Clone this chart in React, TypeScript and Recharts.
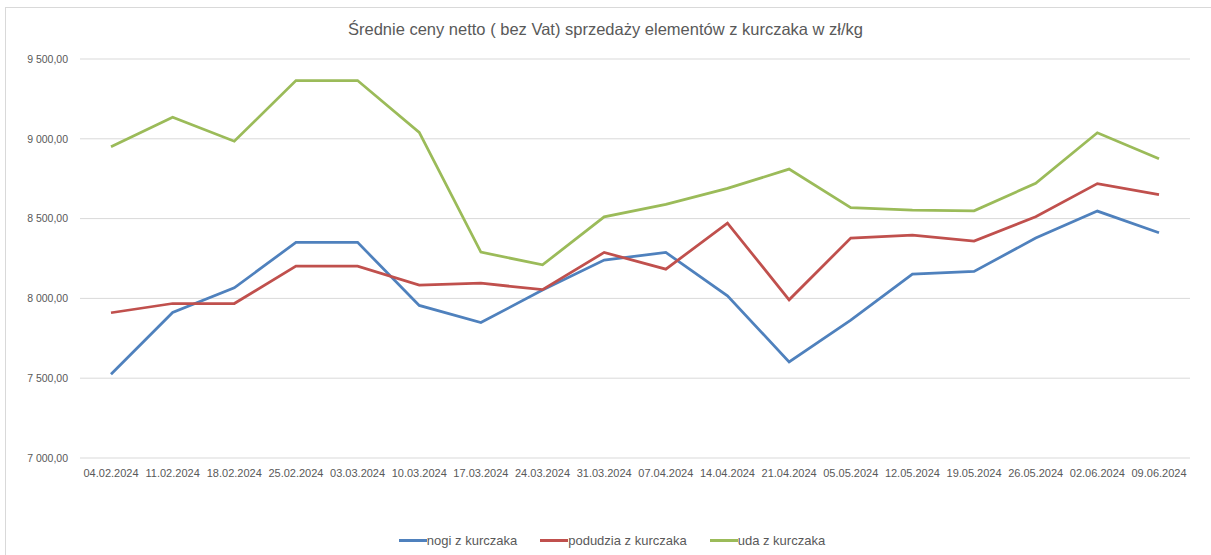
import { CartesianGrid, Legend, Line, LineChart, XAxis, YAxis } from "recharts";

const dates = [
  "04.02.2024", "11.02.2024", "18.02.2024", "25.02.2024", "03.03.2024", "10.03.2024",
  "17.03.2024", "24.03.2024", "31.03.2024", "07.04.2024", "14.04.2024", "21.04.2024",
  "05.05.2024", "12.05.2024", "19.05.2024", "26.05.2024", "02.06.2024", "09.06.2024",
];
const nogi = [7525, 7912, 8066, 8351, 8351, 7956, 7849, 8052, 8240, 8288, 8016, 7602, 7864, 8152, 8169, 8378, 8547, 8411];
const podudzia = [7910, 7968, 7968, 8202, 8202, 8083, 8095, 8055, 8288, 8183, 8472, 7991, 8378, 8397, 8359, 8512, 8719, 8650];
const uda = [8950, 9135, 8985, 9365, 9365, 9040, 8290, 8210, 8511, 8589, 8689, 8810, 8568, 8553, 8549, 8721, 9038, 8875];
const yTicks = [7000, 7500, 8000, 8500, 9000, 9500];

const series = [
  { key: "nogi", name: "nogi z kurczaka", color: "#4F81BD" },
  { key: "podudzia", name: "podudzia z kurczaka", color: "#C0504D" },
  { key: "uda", name: "uda z kurczaka", color: "#9BBB59" },
];

const data = dates.map((d, i) => ({ date: d, nogi: nogi[i], podudzia: podudzia[i], uda: uda[i] }));

const font = "'Liberation Sans', Arial, sans-serif";

function fmt(v: number) {
  const s = v.toFixed(2).replace(".", ",");
  const [int, dec] = s.split(",");
  return int.replace(/\B(?=(\d{3})+(?!\d))/g, " ") + "," + dec;
}

function LegendContent() {
  return (
    <div style={{ display: "flex", justifyContent: "center", gap: 23, fontFamily: font, fontSize: 13, color: "#595959" }}>
      {series.map((s) => (
        <div key={s.key} style={{ display: "flex", alignItems: "center" }}>
          <span style={{ display: "inline-block", width: 28, height: 3, background: s.color }} />
          <span>{s.name}</span>
        </div>
      ))}
    </div>
  );
}

export default function App() {
  return (
    <div style={{ position: "absolute", left: 0, top: 0, width: 1211, height: 555, background: "#fff", overflow: "hidden" }}>
      <div style={{ position: "absolute", left: 5, top: 7, width: 1220, height: 600, border: "1px solid #d9d9d9" }} />
      <div
        style={{
          position: "absolute",
          top: 20,
          left: 0,
          width: 1211,
          textAlign: "center",
          fontFamily: font,
          fontSize: 16.5,
          color: "#595959",
        }}
      >
        Średnie ceny netto ( bez Vat) sprzedaży elementów z kurczaka w zł/kg
      </div>
      <div style={{ position: "absolute", left: 0, top: 0 }}>
        <LineChart width={1211} height={555} data={data} margin={{ top: 59, right: 21, left: 0, bottom: 47 }}>
          <CartesianGrid vertical={false} stroke="#d9d9d9" strokeWidth={1} />
          <XAxis
            dataKey="date"
            axisLine={false}
            tickLine={false}
            tickSize={0}
            tickMargin={11}
            height={30}
            interval={0}
            padding={{ left: 31, right: 31 }}
            tick={{ fontSize: 11, fill: "#595959", fontFamily: font }}
          />
          <YAxis
            domain={[7000, 9500]}
            ticks={yTicks}
            width={80}
            axisLine={false}
            tickLine={false}
            tickSize={0}
            tickMargin={12}
            tickFormatter={fmt}
            tick={{ fontSize: 10.5, fill: "#595959", fontFamily: font }}
          />
          <Legend verticalAlign="bottom" height={20} wrapperStyle={{ bottom: 2, left: 17 }} content={<LegendContent />} />
          {series.map((s) => (
            <Line
              key={s.key}
              type="linear"
              dataKey={s.key}
              name={s.name}
              stroke={s.color}
              strokeWidth={2.75}
              dot={false}
              activeDot={false}
              isAnimationActive={false}
            />
          ))}
        </LineChart>
      </div>
    </div>
  );
}
